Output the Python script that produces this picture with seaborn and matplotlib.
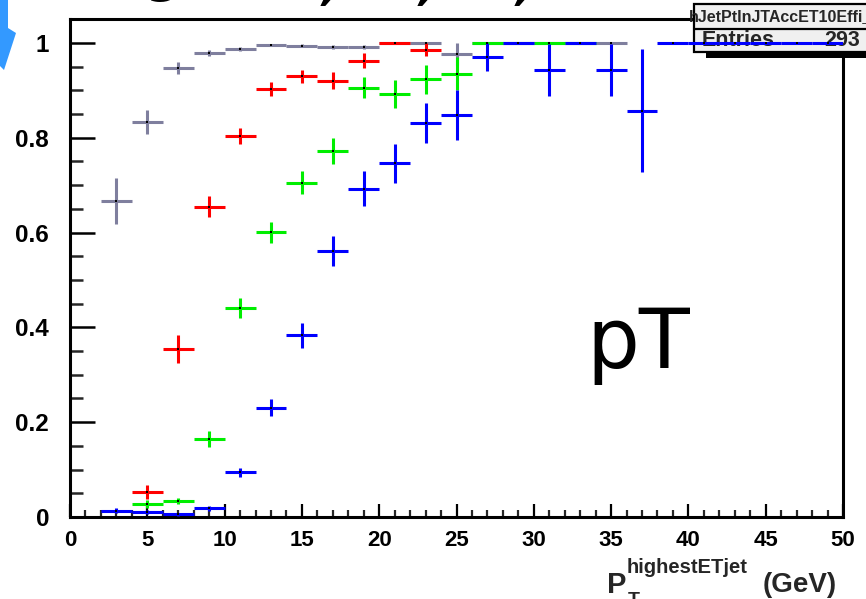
import numpy as np
import pandas as pd
import matplotlib
matplotlib.use("Agg")
import matplotlib.pyplot as plt
import seaborn as sns
from matplotlib.patches import Rectangle, Polygon

# ---------------- data ----------------
gray_x = [3, 5, 7, 9, 11, 13, 15, 17, 19, 21, 23, 25, 27, 29, 31, 33, 35]
gray_y = [0.667, 0.833, 0.947, 0.979, 0.987, 0.996, 0.994, 0.991, 0.992, 1.0, 1.0, 0.977, 1.0, 1.0, 1.0, 1.0, 1.0]
gray_e = [0.048, 0.026, 0.013, 0.007, 0.004, 0.002, 0.003, 0.004, 0.004, 0.0, 0.0, 0.024, 0.0, 0.0, 0.0, 0.0, 0.0]

red_x = [5, 7, 9, 11, 13, 15, 17, 19, 21, 23]
red_y = [0.053, 0.354, 0.655, 0.804, 0.903, 0.930, 0.920, 0.963, 1.0, 0.986]
red_e = [0.015, 0.030, 0.023, 0.017, 0.014, 0.014, 0.018, 0.015, 0.0, 0.013]

green_x = [5, 7, 9, 11, 13, 15, 17, 19, 21, 23, 25, 27, 29, 31, 33]
green_y = [0.027, 0.034, 0.164, 0.441, 0.601, 0.705, 0.772, 0.906, 0.892, 0.923, 0.935, 1.0, 1.0, 1.0, 1.0]
green_e = [0.008, 0.007, 0.017, 0.022, 0.022, 0.024, 0.027, 0.023, 0.030, 0.030, 0.035, 0.0, 0.0, 0.0, 0.0]

blue_x = [3, 5, 7, 9, 11, 13, 15, 17, 19, 21, 23, 25, 27, 29, 31, 33, 35, 37, 39, 41, 43, 45, 47, 49]
blue_y = [0.013, 0.011, 0.006, 0.018, 0.094, 0.231, 0.383, 0.561, 0.693, 0.746, 0.831, 0.848,
          0.970, 1.0, 0.943, 1.0, 0.943, 0.857, 1.0, 1.0, 1.0, 1.0, 1.0, 1.0]
blue_e = [0.005, 0.004, 0.003, 0.005, 0.010, 0.018, 0.026, 0.032, 0.037, 0.041, 0.043, 0.053,
          0.030, 0.0, 0.055, 0.0, 0.055, 0.130, 0.0, 0.0, 0.0, 0.0, 0.0, 0.0]

bin_half_width = 1.0
x_ticks = [0, 5, 10, 15, 20, 25, 30, 35, 40, 45, 50]
y_ticks = [0, 0.2, 0.4, 0.6, 0.8, 1.0]
y_tick_labels = ["0", "0.2", "0.4", "0.6", "0.8", "1"]
stats_name = "hJetPtInJTAccET10Effi_0"
stats_entries = "293"

# ---------------- style ----------------
sns.set_theme(style="white")
plt.rcParams["font.family"] = ["Liberation Sans", "DejaVu Sans"]

W, H = 866, 599
fig = plt.figure(figsize=(W / 100, H / 100), dpi=100)
fig.patch.set_facecolor("white")


def fx(x):
    return x / W


def fy(y):
    return 1 - y / H


ax = fig.add_axes([fx(70), fy(517), (843 - 70) / W, (517 - 19) / H])
ax.set_facecolor("white")

series = [
    (gray_x, gray_y, gray_e, "#7f7f9e", 2),
    (red_x, red_y, red_e, "#ff0000", 3),
    (green_x, green_y, green_e, "#00ee00", 3.5),
    (blue_x, blue_y, blue_e, "#0000ff", 6),
]
for xs, ys, es, col, z in series:
    ax.errorbar(xs, ys, xerr=bin_half_width, yerr=es, fmt="none", ecolor=col,
                elinewidth=2.2, capsize=0, zorder=z)

# centre dots through seaborn
frames = []
for name, (xs, ys, es, col, z) in zip(["gray", "red", "green", "blue"], series):
    frames.append(pd.DataFrame({"x": xs, "y": ys, "s": name}))
df = pd.concat(frames, ignore_index=True)
sns.scatterplot(data=df, x="x", y="y", color="black", s=4, marker="s",
                linewidth=0, legend=False, ax=ax, zorder=7)

ax.set_xlim(0, 50)
ax.set_ylim(0, 1.0506)
ax.set_xlabel("")
ax.set_ylabel("")
ax.set_xticks(x_ticks)
ax.set_xticklabels([str(t) for t in x_ticks])
ax.set_xticks(np.arange(0, 51, 1), minor=True)
ax.set_yticks(y_ticks)
ax.set_yticklabels(y_tick_labels)
ax.set_yticks(np.arange(0, 1.0001, 0.05), minor=True)
ax.tick_params(axis="x", which="major", direction="in", length=9.5, width=1.6, pad=9,
               labelsize=16, bottom=True, top=False, colors="black")
ax.tick_params(axis="x", which="minor", direction="in", length=5, width=1.6,
               bottom=True, top=False)
ax.tick_params(axis="y", which="major", direction="in", length=18, width=1.8, pad=15,
               labelsize=17.5, left=True, right=False, colors="black")
ax.tick_params(axis="y", which="minor", direction="in", length=9.5, width=1.8,
               left=True, right=False)
for lbl in ax.get_xticklabels() + ax.get_yticklabels():
    lbl.set_fontweight("bold")
for sp in ax.spines.values():
    sp.set_visible(True)
    sp.set_color("black")
    sp.set_linewidth(2.2)

# ---------------- stats box ----------------
shadow = Rectangle((fx(706), fy(58)), (900 - 706) / W, 6 / H, transform=fig.transFigure,
                   facecolor="black", edgecolor="none", clip_on=False, zorder=4)
ax.add_patch(shadow)
box = Rectangle((fx(694), fy(52)), (900 - 694) / W, 48 / H, transform=fig.transFigure,
                facecolor="#f0f0f0", edgecolor="black", linewidth=1.6, clip_on=False, zorder=4.2)
ax.add_patch(box)
ax.plot([fx(694), fx(900)], [fy(28.5), fy(28.5)], transform=fig.transFigure, color="black",
        lw=1.6, clip_on=False, zorder=4.3)
t1 = ax.text(fx(689), fy(17), stats_name, transform=fig.transFigure, fontsize=11.5,
             fontweight="bold", va="center", ha="left", zorder=5, clip_on=False)
t1.set_clip_path(box)
ax.text(fx(702), fy(40), "Entries", transform=fig.transFigure, fontsize=15.5,
        fontweight="bold", va="center", ha="left", zorder=5, clip_on=False)
ax.text(fx(824), fy(40), stats_entries, transform=fig.transFigure, fontsize=15.5,
        fontweight="bold", va="center", ha="left", zorder=5, clip_on=False)

# ---------------- axis title ----------------
fig.text(fx(607), fy(593), "P", fontsize=21, fontweight="bold", va="baseline", ha="left")
fig.text(fx(628), fy(605), "T", fontsize=14, fontweight="bold", va="baseline", ha="left")
fig.text(fx(627), fy(573), "highestETjet", fontsize=14.5, fontweight="bold",
         va="baseline", ha="left")
fig.text(fx(763), fy(592), "(GeV)", fontsize=20, fontweight="bold", va="baseline", ha="left")

# ---------------- annotations ----------------
fig.text(fx(586), fy(368), "pT", fontsize=60, family="DejaVu Sans", va="baseline",
         ha="left", color="black")

# cut-off title fragments at the top (only their lowest pixels fall inside the picture)
fig.text(fx(166), fy(-8), "g", fontsize=34, family="DejaVu Sans", style="italic",
         fontweight="bold", va="baseline", ha="center", color="black")
for xc, s, c in [(331, ",", "black"), (386, "30", "#ff3300"), (428, ",", "black"),
                 (485, "50", "#00dd00"), (525, ",", "black"), (578, "80", "#0000cc")]:
    fig.text(fx(xc), fy(-1.5), s, fontsize=34, family="DejaVu Sans", style="italic",
             fontweight="bold", va="baseline", ha="center", color=c)

# blue arrow fragment at top left
arrow_pts = [(0, 0), (8, 0), (8, 28), (16, 33), (4, 70), (0, 66)]
arrow = Polygon([(fx(px), fy(py)) for px, py in arrow_pts], closed=True,
                transform=fig.transFigure, facecolor="#3399ff", edgecolor="none")
fig.patches.append(arrow)

fig.savefig("out.png", dpi=100)
